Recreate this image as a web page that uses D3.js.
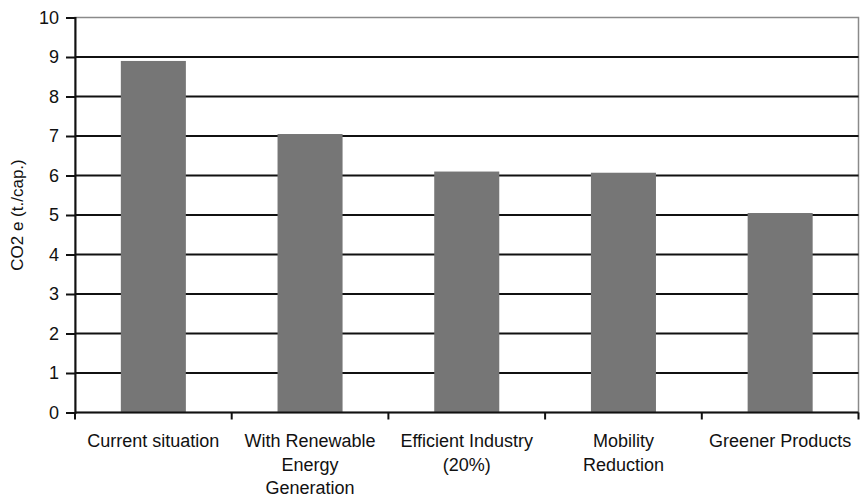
<!DOCTYPE html>
<html>
<head>
<meta charset="utf-8">
<script src="https://cdn.jsdelivr.net/npm/d3@7"></script>
<style>
  body { margin: 0; background: #fff; }
  svg text { font-family: "Liberation Sans", Arial, sans-serif; fill: #111; }
</style>
</head>
<body>
<svg id="chart"></svg>
<script>
"use strict";

const categories = ["Current situation", "With Renewable Energy Generation", "Efficient Industry (20%)", "Mobility Reduction", "Greener Products"];
const categoryLines = [["Current situation"], ["With Renewable", "Energy", "Generation"], ["Efficient Industry", "(20%)"], ["Mobility", "Reduction"], ["Greener Products"]];
const emissions = [8.9, 7.05, 6.1, 6.07, 5.05];
const yTicks = [0, 1, 2, 3, 4, 5, 6, 7, 8, 9, 10];
const yLabel = "CO2 e (t./cap.)";

let width = 860, height = 498;
let plot = { left: 75, right: 858.5, top: 17.5, bottom: 412.5 };

let svg = d3.select('svg#chart')
  .attr('width', width)
  .attr('height', height);

let x = d3.scaleBand().domain(categories).range([plot.left, plot.right]).padding(0);
let y = d3.scaleLinear().domain([0, 10]).range([plot.bottom, plot.top]);

/* plot area border */
svg.append('rect')
  .attr('x', plot.left)
  .attr('y', plot.top)
  .attr('width', plot.right - plot.left)
  .attr('height', plot.bottom - plot.top)
  .attr('fill', 'none')
  .attr('stroke', '#8a8a8a')
  .attr('stroke-width', 1.5);

/* gridlines */
svg.selectAll('line.grid')
  .data(yTicks.filter(d => d > 0 && d < 10))
  .enter()
  .append('line')
  .attr('class', 'grid')
  .attr('x1', plot.left)
  .attr('x2', plot.right)
  .attr('y1', d => y(d))
  .attr('y2', d => y(d))
  .attr('stroke', '#111')
  .attr('stroke-width', 2);

/* bars */
let barWidth = x.bandwidth() * 0.415;
svg.selectAll('rect.bar')
  .data(emissions)
  .enter()
  .append('rect')
  .attr('class', 'bar')
  .attr('x', (d, i) => x(categories[i]) + (x.bandwidth() - barWidth) / 2)
  .attr('y', d => y(d))
  .attr('width', barWidth)
  .attr('height', d => y(0) - y(d))
  .attr('fill', '#767676');

/* y axis */
let yAxis = d3.axisLeft(y).tickValues(yTicks).tickSize(9).tickPadding(7);
let gy = svg.append('g')
  .attr('transform', `translate(${plot.left},0)`)
  .call(yAxis);
gy.select('.domain').attr('stroke', '#111').attr('stroke-width', 2);
gy.selectAll('.tick line').attr('stroke', '#111').attr('stroke-width', 2);
gy.selectAll('.tick text').style('font-size', '18px').attr('fill', '#111');

/* x axis */
svg.append('line')
  .attr('x1', plot.left)
  .attr('x2', plot.right)
  .attr('y1', plot.bottom)
  .attr('y2', plot.bottom)
  .attr('stroke', '#111')
  .attr('stroke-width', 2);

let boundaries = categories.map(c => x(c)).concat([plot.right]);
svg.selectAll('line.xtick')
  .data(boundaries)
  .enter()
  .append('line')
  .attr('class', 'xtick')
  .attr('x1', d => d)
  .attr('x2', d => d)
  .attr('y1', plot.bottom)
  .attr('y2', plot.bottom + 7)
  .attr('stroke', '#111')
  .attr('stroke-width', 2);

svg.selectAll('text.xlabel')
  .data(categoryLines)
  .enter()
  .append('text')
  .attr('class', 'xlabel')
  .attr('text-anchor', 'middle')
  .style('font-size', '18px')
  .each(function(lines, i) {
    let cx = x(categories[i]) + x.bandwidth() / 2;
    d3.select(this).selectAll('tspan')
      .data(lines)
      .enter()
      .append('tspan')
      .attr('x', cx)
      .attr('y', (d, j) => 447 + j * 23.5)
      .text(d => d);
  });

/* y axis title */
svg.append('text')
  .attr('text-anchor', 'middle')
  .attr('transform', `translate(23, ${(plot.top + plot.bottom) / 2}) rotate(-90)`)
  .style('font-size', '17px')
  .text(yLabel);
</script>
</body>
</html>
